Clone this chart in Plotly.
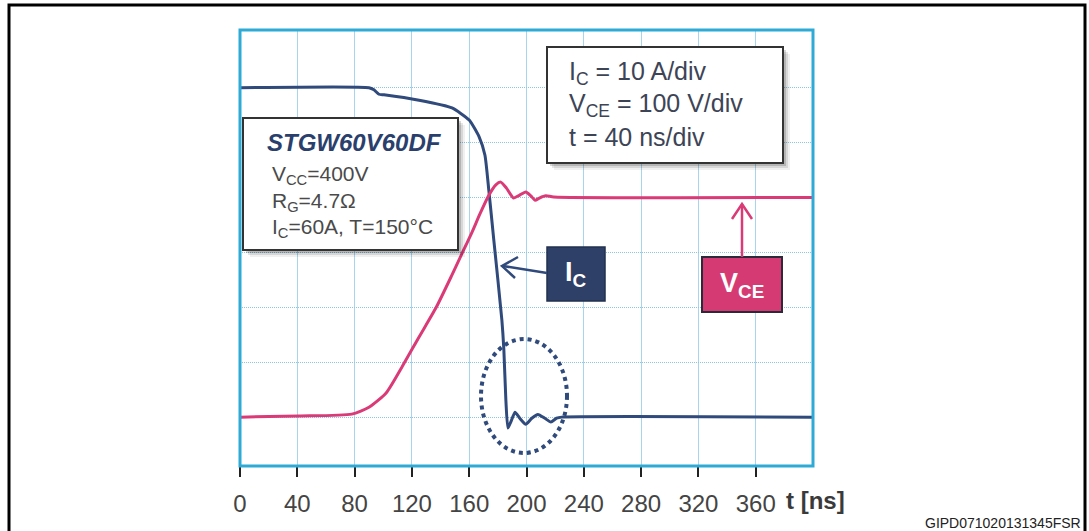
import plotly.graph_objects as go

# ---------------- data ----------------
ic_t = [0, 90, 93.5, 97, 100.5, 125, 148, 160, 167, 171, 173.7, 177.2, 182.8, 184.2, 185.6, 187,
        189, 192, 195.3, 199.5, 203.7, 208, 212.8, 217, 221, 224.6, 400]
ic_a = [60.0, 60.0, 59.6, 58.8, 58.7, 57.7, 56.3, 54.1, 51.0, 47.7, 41.3, 32.2, 17.7, 12.2, 3.1, -2.0,
        -0.9, 0.9, -0.2, -1.3, -0.2, 0.5, -0.2, -0.9, -0.2, 0.0, 0.0]

vce_t = [0, 41, 78, 90, 102, 113, 125, 137, 148, 155, 162, 167.5, 173.7, 178.6, 182, 186,
         191, 195, 199.5, 203, 206, 209, 213.5, 219, 400]
vce_v = [0, 2, 5.5, 18, 44, 91, 146, 200, 259, 298, 337, 370, 404, 423, 428, 417,
         399, 404, 410, 403, 395, 399, 403, 401, 400]

t_ticks = [0, 40, 80, 120, 160, 200, 240, 280, 320, 360]
t_labels = ["0", "40", "80", "120", "160", "200", "240", "280", "320", "360"]
ic_grid = [0, 10, 20, 30, 40, 50, 60]

# ---------------- layout helpers (pixel -> paper) ----------------
W, H = 1089, 531
L, R, T, B = 240, 813, 30, 466


def px(x):
    return (x - L) / (R - L)


def py(y):
    return (B - y) / (B - T)


FONT = "Liberation Sans, Arial, sans-serif"
NAVY = "#2F4A7B"
PINK = "#DA3A76"
CYAN = "#2EAAD6"

fig = go.Figure()
fig.add_trace(go.Scatter(x=ic_t, y=ic_a, mode="lines", yaxis="y",
                         line=dict(color=NAVY, width=3, shape="spline", smoothing=0.5),
                         hoverinfo="skip", showlegend=False))
fig.add_trace(go.Scatter(x=vce_t, y=vce_v, mode="lines", yaxis="y2",
                         line=dict(color=PINK, width=3, shape="spline", smoothing=0.6),
                         hoverinfo="skip", showlegend=False))

shapes = []
annotations = []

# outer frame
shapes.append(dict(type="rect", xref="paper", yref="paper", x0=px(9), x1=px(1085), y0=py(5), y1=py(545),
                   line=dict(color="black", width=3), fillcolor="rgba(0,0,0,0)", layer="above"))
# plot border
shapes.append(dict(type="rect", xref="paper", yref="paper", x0=0, x1=1, y0=0, y1=1,
                   line=dict(color=CYAN, width=3), layer="above"))


def shadow_box(x0, y0, x1, y1):
    for off, op in [(7, 0.06), (5, 0.10), (3, 0.16)]:
        shapes.append(dict(type="rect", xref="paper", yref="paper",
                           x0=px(x0 + off), x1=px(x1 + off), y0=py(y0 + off), y1=py(y1 + off),
                           line=dict(width=0), fillcolor="rgba(0,0,0,%s)" % op, layer="above"))
    shapes.append(dict(type="rect", xref="paper", yref="paper",
                       x0=px(x0), x1=px(x1), y0=py(y0), y1=py(y1),
                       line=dict(color="#333333", width=2), fillcolor="white", layer="above"))


# device box
shadow_box(243, 118, 458, 250)
annotations.append(dict(xref="paper", yref="paper", x=px(265), y=py(143), xanchor="left", yanchor="middle",
                        text="<b><i>STGW60V60DF</i></b>", showarrow=False,
                        font=dict(family=FONT, size=24, color="#2B3F6C")))
for txt, yc in [("V<sub>CC</sub>=400V", 175), ("R<sub>G</sub>=4.7\u03a9", 202),
                ("I<sub>C</sub>=60A, T=150\u00b0C", 228)]:
    annotations.append(dict(xref="paper", yref="paper", x=px(270), y=py(yc), xanchor="left", yanchor="middle",
                            text=txt, showarrow=False, font=dict(family=FONT, size=21, color="#4A4A4A")))

# scale box
shadow_box(547, 47, 783, 163)
for txt, yc in [("I<sub>C</sub> = 10 A/div", 73), ("V<sub>CE</sub> = 100 V/div", 105),
                ("t = 40 ns/div", 137)]:
    annotations.append(dict(xref="paper", yref="paper", x=px(567), y=py(yc), xanchor="left", yanchor="middle",
                            text=txt, showarrow=False, font=dict(family=FONT, size=25, color="#3D4456")))

# IC label box + arrow
shapes.append(dict(type="rect", xref="paper", yref="paper", x0=px(547), x1=px(605), y0=py(247), y1=py(301),
                   line=dict(color="#22304F", width=1.5), fillcolor="#2E4068", layer="above"))
annotations.append(dict(xref="paper", yref="paper", x=px(576), y=py(274), xanchor="center", yanchor="middle",
                        text="<b>I<sub>C</sub></b>", showarrow=False, font=dict(family=FONT, size=27, color="white")))
shapes.append(dict(type="line", xref="paper", yref="paper", x0=px(547), y0=py(273), x1=px(503), y1=py(266),
                   line=dict(color=NAVY, width=2.5), layer="above"))
shapes.append(dict(type="path", xref="paper", yref="paper",
                   path="M %f,%f L %f,%f L %f,%f" % (px(518), py(257), px(502), py(266), px(515), py(278)),
                   line=dict(color=NAVY, width=2.5), layer="above"))

# VCE label box + arrow
shapes.append(dict(type="rect", xref="paper", yref="paper", x0=px(702), x1=px(782), y0=py(257), y1=py(312),
                   line=dict(color="#2A2A3A", width=2), fillcolor="#D63A72", layer="above"))
annotations.append(dict(xref="paper", yref="paper", x=px(742), y=py(285), xanchor="center", yanchor="middle",
                        text="<b>V<sub>CE</sub></b>", showarrow=False, font=dict(family=FONT, size=27, color="white")))
shapes.append(dict(type="line", xref="paper", yref="paper", x0=px(742), y0=py(257), x1=px(742), y1=py(204),
                   line=dict(color=PINK, width=2.5), layer="above"))
shapes.append(dict(type="path", xref="paper", yref="paper",
                   path="M %f,%f L %f,%f L %f,%f" % (px(732), py(219), px(742), py(204), px(752), py(219)),
                   line=dict(color=PINK, width=2.5), layer="above"))

# dotted ellipse around ringing
shapes.append(dict(type="circle", xref="paper", yref="paper", x0=px(481), x1=px(567), y0=py(339), y1=py(453),
                   line=dict(color=NAVY, width=4, dash="dot"), layer="above"))

# axis title "t [ns]"
annotations.append(dict(xref="paper", yref="paper", x=px(815), y=py(500), xanchor="center", yanchor="middle",
                        text="<b>t [ns]</b>", showarrow=False, font=dict(family=FONT, size=24, color="#3A3A3A")))
# footnote
annotations.append(dict(xref="paper", yref="paper", x=px(1083), y=py(523), xanchor="right", yanchor="middle",
                        text="GIPD071020131345FSR", showarrow=False, font=dict(family=FONT, size=14, color="#222222")))

fig.update_layout(
    width=W, height=H,
    margin=dict(l=L, r=W - R, t=T, b=H - B, pad=0),
    paper_bgcolor="white", plot_bgcolor="white",
    showlegend=False,
    font=dict(family=FONT),
    xaxis=dict(range=[0, 400], tickmode="array", tickvals=t_ticks, ticktext=t_labels,
               showgrid=True, gridcolor="#A9D5EC", gridwidth=1, griddash="solid",
               ticks="outside", ticklen=10, tickwidth=2, tickcolor="#222222", ticklabelstandoff=6,
               tickfont=dict(family=FONT, size=24, color="#444444"),
               zeroline=False, showline=False, fixedrange=True),
    yaxis=dict(range=[-8.9, 70.5], tickmode="array", tickvals=ic_grid, showticklabels=False,
               showgrid=True, gridcolor="#8CC6E4", gridwidth=1, griddash="1px,1px",
               ticks="", zeroline=False, showline=False, fixedrange=True),
    yaxis2=dict(range=[-89, 705], overlaying="y", visible=False, showgrid=False, fixedrange=True),
    shapes=shapes,
    annotations=annotations,
)

fig.write_html("out.html")
